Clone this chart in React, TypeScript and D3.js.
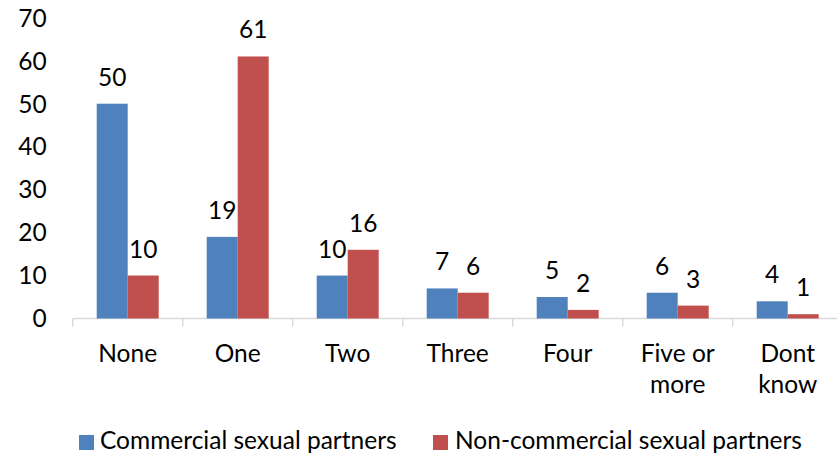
import React from 'react';
import * as d3 from 'd3';

const categories = [['None'], ['One'], ['Two'], ['Three'], ['Four'], ['Five or', 'more'], ['Dont', 'know']];
const commercial = [50, 19, 10, 7, 5, 6, 4];
const nonCommercial = [10, 61, 16, 6, 2, 3, 1];
const seriesNames = ['Commercial sexual partners', 'Non-commercial sexual partners'];
const colors = ['#4F81BD', '#C0504D'];
const yTicks = [0, 10, 20, 30, 40, 50, 60, 70];

const W = 837;
const H = 457;
const font = 'Lato, "Open Sans", sans-serif';
const fs = 24.5;

export default function App() {
  const keys = categories.map((c) => c.join(' '));
  const x = d3.scaleBand<string>().domain(keys).range([72.7, 842.7]);
  const inner = d3.scaleBand<number>().domain([0, 1]).range([24, x.bandwidth() - 24]);
  const y = d3.scaleLinear().domain([0, 70]).range([318.5, 17.8]);
  const series = [commercial, nonCommercial];

  return (
    <svg width={W} height={H} style={{ position: 'absolute', left: 0, top: 0 }} fontFamily={font}>
      <rect width={W} height={H} fill="#fff" />
      {yTicks.map((t) => (
        <text key={t} x={46.7} y={y(t)} dy="0.36em" textAnchor="end" fontSize={fs} fill="#000">
          {t}
        </text>
      ))}
      <line x1={72.7} x2={W} y1={y(0)} y2={y(0)} stroke="#D9D9D9" strokeWidth={1.5} />
      {d3.range(categories.length + 1).map((i) => {
        const px = 72.7 + i * x.step();
        return <line key={i} x1={px} x2={px} y1={y(0)} y2={y(0) + 8} stroke="#D9D9D9" strokeWidth={1.5} />;
      })}
      {series.map((vals, s) =>
        vals.map((v, i) => {
          const bx = (x(keys[i]) as number) + (inner(s) as number);
          const bw = inner.bandwidth();
          return (
            <g key={`${s}-${i}`}>
              <rect x={bx} y={y(v)} width={bw} height={y(0) - y(v)} fill={colors[s]} />
              <text x={bx + bw / 2} y={y(v) - 18} textAnchor="middle" fontSize={fs} fill="#000">
                {v}
              </text>
            </g>
          );
        })
      )}
      {categories.map((lines, i) => (
        <text key={i} x={(x(keys[i]) as number) + x.bandwidth() / 2} y={361.5} textAnchor="middle" fontSize={fs} fill="#000">
          {lines.map((l, j) => (
            <tspan key={j} x={(x(keys[i]) as number) + x.bandwidth() / 2} dy={j === 0 ? 0 : 31.5}>
              {l}
            </tspan>
          ))}
        </text>
      ))}
      <g>
        <rect x={79} y={435} width={15} height={15} fill={colors[0]} />
        <text x={100} y={449} fontSize={fs} fill="#000">{seriesNames[0]}</text>
        <rect x={433} y={435} width={15} height={15} fill={colors[1]} />
        <text x={455} y={449} fontSize={fs} fill="#000">{seriesNames[1]}</text>
      </g>
    </svg>
  );
}
